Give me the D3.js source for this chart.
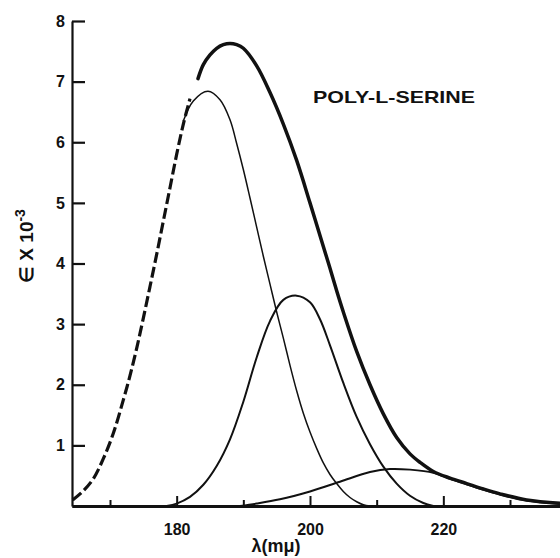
<!DOCTYPE html>
<html>
<head>
<meta charset="utf-8">
<script src="https://cdn.jsdelivr.net/npm/d3@7/dist/d3.min.js"></script>
<style>
  html, body { margin: 0; padding: 0; background: #fff; }
  svg { display: block; }
  text { font-family: "Liberation Sans", Arial, sans-serif; font-weight: bold; fill: #111; }
</style>
</head>
<body>
<svg id="chart" width="560" height="558"></svg>
<script>
// ---- data ----
const title = "POLY-L-SERINE";
const xMajorTicks = [180, 200, 220];
const xMinorTicks = [170, 190, 210, 230];
const yTicks = [1, 2, 3, 4, 5, 6, 7, 8];

// observed envelope, extrapolated (dashed) part: [wavelength, epsilon]
const envelopeDashed = [
  [164.4, 0.10], [166.0, 0.25], [167.5, 0.45], [169.0, 0.78], [170.5, 1.20],
  [172.0, 1.75], [173.0, 2.15], [174.0, 2.60], [175.0, 3.10], [176.0, 3.62],
  [177.0, 4.15], [178.0, 4.70], [179.0, 5.25], [180.0, 5.80], [181.0, 6.30],
  [182.0, 6.72]
];
// observed envelope, measured (solid) part
const envelopeSolid = [
  [183.2, 7.05], [184.0, 7.28], [185.0, 7.44], [186.0, 7.55], [187.0, 7.61],
  [188.0, 7.63], [189.0, 7.61], [190.0, 7.55], [192.0, 7.26], [194.0, 6.82],
  [196.0, 6.30], [198.0, 5.70], [200.0, 5.00], [202.0, 4.28], [203.0, 3.92],
  [204.0, 3.55], [205.0, 3.20], [207.0, 2.55], [209.0, 2.00], [211.0, 1.52],
  [213.0, 1.13], [215.0, 0.86], [216.5, 0.72], [218.5, 0.57], [221.0, 0.46],
  [223.5, 0.37], [226.0, 0.28], [228.5, 0.20], [232.5, 0.10], [237.5, 0.045]
];
// resolved component bands
const band1 = [
  [181.0, 6.35], [182.5, 6.68], [184.7, 6.84], [186.5, 6.70], [188.0, 6.37],
  [189.0, 5.98], [190.0, 5.55], [191.0, 5.08], [192.0, 4.60], [193.0, 4.12],
  [194.0, 3.66], [195.0, 3.20], [196.0, 2.77], [197.0, 2.32], [198.0, 1.90],
  [199.0, 1.53], [200.0, 1.22], [201.0, 0.95], [202.0, 0.71], [203.0, 0.52],
  [204.0, 0.37], [205.0, 0.24], [206.0, 0.14], [207.0, 0.07], [208.0, 0.02],
  [209.0, 0.0]
];
const band2 = [
  [178.5, 0.0], [180.0, 0.04], [182.0, 0.15], [184.0, 0.35], [186.0, 0.66],
  [188.0, 1.10], [190.0, 1.72], [192.0, 2.45], [194.0, 3.05], [196.0, 3.40],
  [198.0, 3.47], [200.0, 3.36], [201.5, 3.08], [203.0, 2.65], [205.0, 2.03],
  [207.0, 1.47], [209.0, 1.02], [211.0, 0.65], [213.0, 0.37], [215.0, 0.17],
  [217.0, 0.05], [218.5, 0.0]
];
const band3 = [
  [189.5, 0.0], [192.0, 0.04], [195.5, 0.11], [200.0, 0.24], [204.5, 0.40],
  [209.0, 0.56], [212.0, 0.61], [215.0, 0.60], [218.5, 0.55], [221.0, 0.45],
  [223.5, 0.36], [226.0, 0.27], [228.5, 0.19], [232.5, 0.09], [237.5, 0.035]
];

// ---- drawing ----
const svg = d3.select("#chart");
const x = d3.scaleLinear().domain([164.3, 237.5]).range([72, 560]);
const y = d3.scaleLinear().domain([0, 8]).range([506, 21]);

const line = d3.line()
  .x(d => x(d[0]))
  .y(d => y(d[1]))
  .curve(d3.curveCatmullRom.alpha(0.5));

// bands
[band1, band2, band3].forEach((b, i) => {
  svg.append("path")
    .attr("d", line(b))
    .attr("fill", "none")
    .attr("stroke", "#111")
    .attr("stroke-width", i === 0 ? 1.5 : 2);
});

// envelope
svg.append("path")
  .attr("d", line(envelopeDashed))
  .attr("fill", "none")
  .attr("stroke", "#111")
  .attr("stroke-width", 3.2)
  .attr("stroke-dasharray", "11,4");
svg.append("path")
  .attr("d", line(envelopeSolid))
  .attr("fill", "none")
  .attr("stroke", "#111")
  .attr("stroke-width", 3.5)
  .attr("stroke-linecap", "round");

// x axis
const xAxis = svg.append("g").attr("transform", `translate(0,${y(0)})`)
  .call(d3.axisBottom(x).tickValues(xMajorTicks).tickSizeInner(-10).tickSizeOuter(0).tickPadding(18).tickFormat(d3.format("d")));
const xMinor = svg.append("g").attr("transform", `translate(0,${y(0)})`)
  .call(d3.axisBottom(x).tickValues(xMinorTicks).tickSizeInner(-6).tickSizeOuter(0).tickFormat(""));
[xAxis, xMinor].forEach(g => {
  g.select(".domain").attr("stroke", "#111").attr("stroke-width", 3);
  g.selectAll(".tick line").attr("stroke", "#111").attr("stroke-width", 2);
});
xAxis.selectAll(".tick text").attr("font-size", 16).attr("fill", "#111")
  .attr("font-family", "Liberation Sans, Arial, sans-serif").attr("font-weight", "bold");

// y axis
const yAxis = svg.append("g").attr("transform", `translate(${x(164.3)},0)`)
  .call(d3.axisLeft(y).tickValues(yTicks).tickSizeInner(-13).tickSizeOuter(0).tickPadding(7).tickFormat(d3.format("d")));
yAxis.select(".domain").attr("stroke", "#111").attr("stroke-width", 2.2);
yAxis.selectAll(".tick line").attr("stroke", "#111").attr("stroke-width", 2.2);
yAxis.selectAll(".tick text").attr("font-size", 16).attr("fill", "#111")
  .attr("font-family", "Liberation Sans, Arial, sans-serif").attr("font-weight", "bold");

// axis titles
svg.append("text")
  .attr("x", 276).attr("y", 552)
  .attr("text-anchor", "middle")
  .attr("font-size", 18)
  .text("λ(mμ)");

const yl = svg.append("text")
  .attr("transform", "translate(33,246) rotate(-90)")
  .attr("text-anchor", "middle")
  .attr("font-size", 19);
yl.append("tspan").text("∈ X 10");
yl.append("tspan").attr("dy", -8).attr("font-size", 14).text("-3");

// chart title
svg.append("text")
  .attr("x", 313).attr("y", 103)
  .attr("font-size", 17)
  .attr("textLength", 162)
  .attr("lengthAdjust", "spacingAndGlyphs")
  .text(title);
</script>
</body>
</html>
